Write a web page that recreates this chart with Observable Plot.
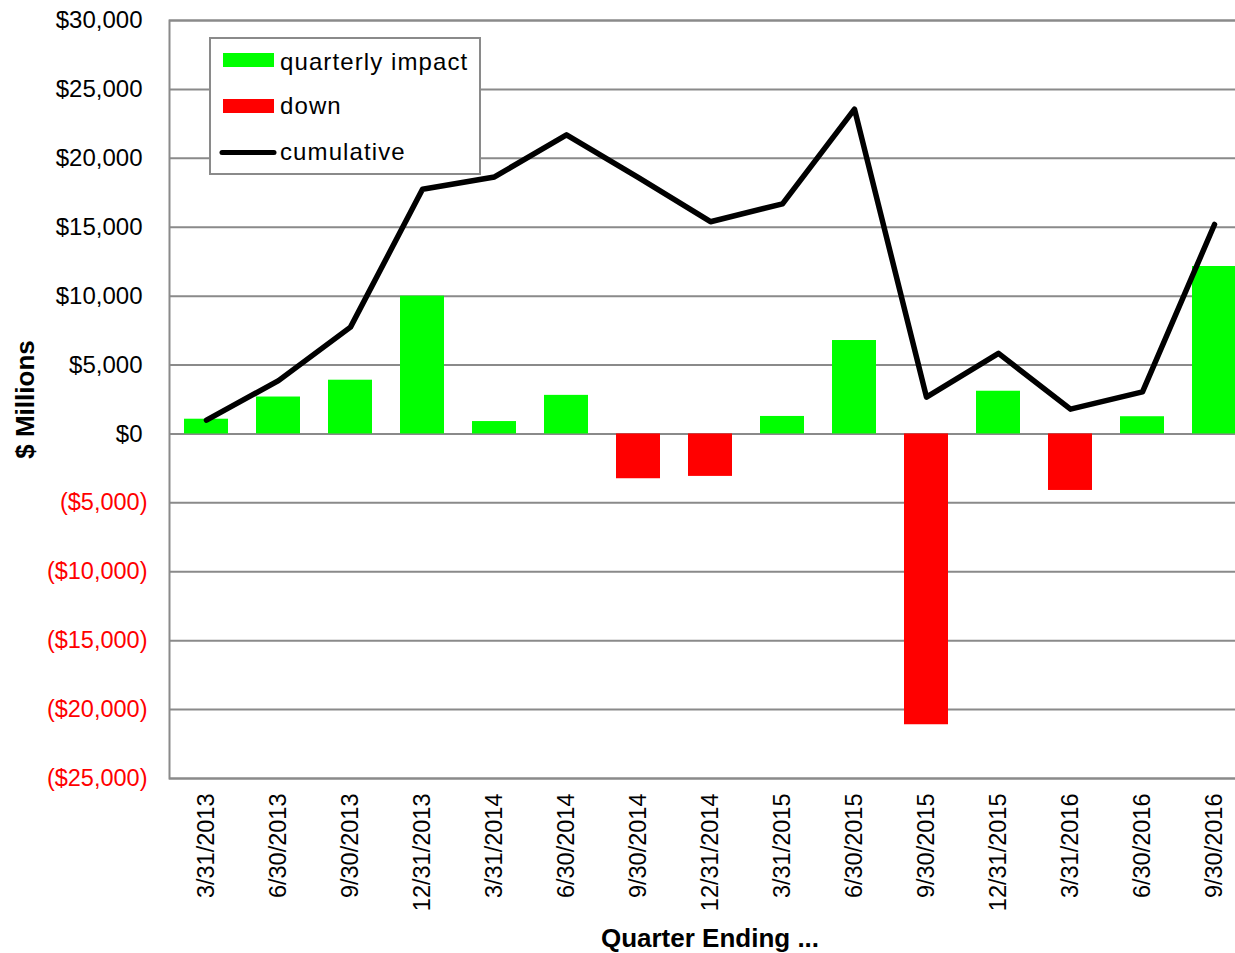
<!DOCTYPE html>
<html>
<head>
<meta charset="utf-8">
<script src="https://cdn.jsdelivr.net/npm/d3@7"></script>
<script src="https://cdn.jsdelivr.net/npm/@observablehq/plot@0.6"></script>
<style>
  html, body { margin: 0; padding: 0; background: #fff; overflow: hidden; }
  #chart { width: 1235px; height: 953px; overflow: hidden; }
  #chart svg { max-width: none !important; width: 1250px; height: 953px; }
</style>
</head>
<body>
<div id="chart"></div>
<script>
const categories = ["3/31/2013","6/30/2013","9/30/2013","12/31/2013","3/31/2014","6/30/2014","9/30/2014","12/31/2014","3/31/2015","6/30/2015","9/30/2015","12/31/2015","3/31/2016","6/30/2016","9/30/2016"];
const quarterly = [1070, 2680, 3900, 10000, 900, 2800, -3250, -3080, 1270, 6780, -21100, 3100, -4100, 1250, 12150];
const cumulative = [1000, 3870, 7750, 17750, 18650, 21700, 18600, 15400, 16700, 23570, 2670, 5850, 1800, 3050, 15200];
const posTicks = [0, 5000, 10000, 15000, 20000, 25000, 30000];
const negTicks = [-25000, -20000, -15000, -10000, -5000];
const legendItems = ["quarterly impact", "down", "cumulative"];

const data = categories.map((d, i) => ({date: d, q: quarterly[i], c: cumulative[i]}));
const GREEN = "#00ff00", RED = "#ff0000", GRID = "#8a8a8a";
const fmt = v => (v < 0 ? "($" + d3.format(",")(-v) + ")" : "$" + d3.format(",")(v));

const chart = Plot.plot({
  width: 1250,
  height: 953,
  marginLeft: 169,
  marginRight: 0,
  marginTop: 20,
  marginBottom: 175,
  style: {fontFamily: "'Liberation Sans', Arial, sans-serif", fontSize: "24px", background: "white", color: "black", maxWidth: "none"},
  x: {domain: categories, paddingInner: 0.39, paddingOuter: 0.195, label: null},
  y: {domain: [-25000, 30000], label: null},
  marks: [
    Plot.ruleY(posTicks.concat(negTicks), {stroke: GRID, strokeWidth: 2}),
    Plot.frame({stroke: GRID, strokeWidth: 2}),
    Plot.barY(data, {filter: d => d.q >= 0, x: "date", y: "q", fill: GREEN}),
    Plot.barY(data, {filter: d => d.q < 0, x: "date", y: "q", fill: RED}),
    Plot.lineY(data, {x: "date", y: "c", stroke: "black", strokeWidth: 5.5, strokeLinejoin: "round", strokeLinecap: "round"}),
    Plot.axisY({ticks: posTicks, tickFormat: fmt, tickSize: 0, tickPadding: 27, fontSize: 24, fill: "black", label: null}),
    Plot.axisY({ticks: negTicks, tickFormat: fmt, tickSize: 0, tickPadding: 22, fontSize: 23.5, fill: RED, label: null}),
    Plot.axisX({tickRotate: -90, tickSize: 0, tickPadding: 15, fontSize: 23.5, fill: "black", label: null}),
    Plot.text(["Quarter Ending ..."], {frameAnchor: "bottom", dy: 168, fontWeight: "bold", fontSize: 26, fill: "black"}),
    Plot.text(["$ Millions"], {frameAnchor: "left", textAnchor: "middle", dx: -144, rotate: -90, fontWeight: "bold", fontSize: 26, fill: "black"})
  ]
});
document.getElementById("chart").appendChild(chart);

// legend box
const svg = d3.select(chart);
const lg = svg.append("g").attr("font-family", "'Liberation Sans', Arial, sans-serif").attr("font-size", 24).attr("text-anchor", "start");
lg.append("rect").attr("x", 210).attr("y", 38).attr("width", 270).attr("height", 136)
  .attr("fill", "white").attr("stroke", GRID).attr("stroke-width", 2);
const rows = [62, 106, 152];
lg.append("rect").attr("x", 223).attr("y", 53).attr("width", 51).attr("height", 14).attr("fill", GREEN);
lg.append("rect").attr("x", 223).attr("y", 99).attr("width", 51).attr("height", 14).attr("fill", RED);
lg.append("line").attr("x1", 222).attr("x2", 274).attr("y1", 152.5).attr("y2", 152.5)
  .attr("stroke", "black").attr("stroke-width", 5).attr("stroke-linecap", "round");
legendItems.forEach((t, i) => {
  lg.append("text").attr("x", 280).attr("y", rows[i]).attr("dy", "0.35em")
    .attr("text-anchor", "start").attr("letter-spacing", "1.1px").attr("fill", "black").text(t);
});
</script>
</body>
</html>
